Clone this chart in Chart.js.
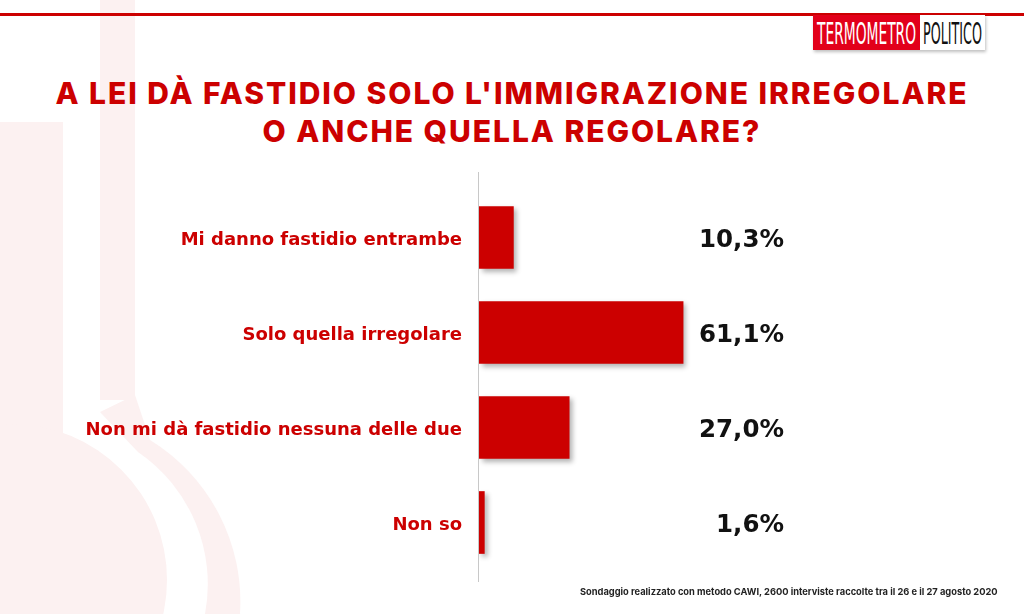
<!DOCTYPE html>
<html>
<head>
<meta charset="utf-8">
<script src="https://cdn.jsdelivr.net/npm/chart.js@4"></script>
<style>
  html, body { margin: 0; padding: 0; background: #fff; }
  #page { position: relative; width: 1024px; height: 614px; overflow: hidden; font-family: Inter, "Open Sans", sans-serif; }
  #bg { position: absolute; left: 0; top: 0; }
  #topline { position: absolute; left: 0; top: 13px; width: 1024px; height: 3px; background: #cc0000; }
  #logo { position: absolute; left: 813px; top: 15px; box-shadow: 1px 2px 3px rgba(0,0,0,0.25); }
  #title { position: absolute; left: 0; top: 74px; width: 1024px; text-align: center; color: #cc0000; font-weight: 800; font-size: 30px; line-height: 38px; letter-spacing: 1.95px; }
  #note { position: absolute; left: 580px; top: 586px; font-size: 9.3px; font-weight: 700; color: #222; white-space: nowrap; }
  #chart { position: absolute; left: 0; top: 0; }
</style>
</head>
<body>
<div id="page">
  <svg id="bg" width="1024" height="614">
    <g fill="#fcf1f1">
      <rect x="100" y="0" width="35" height="400"/>
      <rect x="0" y="122" width="63" height="320"/>
      <circle cx="11" cy="580" r="156"/>
    </g>
    <path d="M135 395 L150 440 A190 190 0 0 1 240 614 L205 614 A160 160 0 0 0 138 452 L100 412 Z" fill="#fcf1f1"/>
  </svg>
  <div id="topline"></div>
  <svg id="logo" width="172" height="35">
    <rect x="0" y="0" width="107" height="35" fill="#e2001a"/>
    <rect x="107" y="0" width="65" height="35" fill="#fff"/>
    <text x="4" y="29" textLength="99" lengthAdjust="spacingAndGlyphs" fill="#fff" font-family="Liberation Sans Narrow, DejaVu Sans Condensed, sans-serif" font-size="30">TERMOMETRO</text>
    <text x="110" y="29" textLength="59" lengthAdjust="spacingAndGlyphs" fill="#111" font-family="Liberation Sans Narrow, DejaVu Sans Condensed, sans-serif" font-size="30">POLITICO</text>
  </svg>
  <div id="title">A LEI DÀ FASTIDIO SOLO L'IMMIGRAZIONE IRREGOLARE<br>O ANCHE QUELLA REGOLARE?</div>
  <canvas id="chart" width="1024" height="614"></canvas>
  <div id="note">Sondaggio realizzato con metodo CAWI, 2600 interviste raccolte tra il 26 e il 27 agosto 2020</div>
</div>
<script>
const categories = ['Mi danno fastidio entrambe', 'Solo quella irregolare', 'Non mi dà fastidio nessuna delle due', 'Non so'];
const values = [10.3, 61.1, 27.0, 1.6];
const valueLabels = ['10,3%', '61,1%', '27,0%', '1,6%'];

// shadow under the bars
const barShadow = {
    id: 'barShadow',
    beforeDatasetsDraw(chart) {
        const ctx = chart.ctx;
        ctx.save();
        ctx.shadowColor = 'rgba(0, 0, 0, 0.3)';
        ctx.shadowBlur = 5;
        ctx.shadowOffsetX = 3;
        ctx.shadowOffsetY = 3;
    },
    afterDatasetsDraw(chart) {
        chart.ctx.restore();
    }
};

// vertical axis line and the percentages on the right
const extras = {
    id: 'extras',
    afterDraw(chart) {
        const ctx = chart.ctx;
        const area = chart.chartArea;
        const x0 = chart.scales.x.getPixelForValue(0);
        ctx.save();
        ctx.strokeStyle = '#c8c8c8';
        ctx.lineWidth = 1;
        ctx.beginPath();
        ctx.moveTo(x0 - 0.5, area.top - 18);
        ctx.lineTo(x0 - 0.5, area.bottom + 12);
        ctx.stroke();

        ctx.fillStyle = '#111';
        ctx.font = 'bold 24.5px "DejaVu Sans"';
        ctx.textAlign = 'right';
        ctx.textBaseline = 'middle';
        chart.getDatasetMeta(0).data.forEach((bar, i) => {
            ctx.fillText(valueLabels[i], area.right + 1, bar.y + 3);
        });
        ctx.restore();
    }
};

new Chart(document.getElementById('chart'), {
    type: 'bar',
    data: {
        labels: categories,
        datasets: [{
            data: values,
            backgroundColor: '#cc0000',
            borderWidth: 0,
            barThickness: 62
        }]
    },
    options: {
        indexAxis: 'y',
        responsive: false,
        animation: false,
        layout: {
            padding: { top: 190, bottom: 44, right: 241, left: 0 }
        },
        plugins: {
            legend: { display: false },
            tooltip: { enabled: false }
        },
        scales: {
            x: {
                display: false,
                min: 0,
                max: 91
            },
            y: {
                grid: { display: false, drawTicks: false },
                border: { display: false },
                afterFit(scale) { scale.width = 479; },
                ticks: {
                    color: '#cc0000',
                    padding: 17,
                    labelOffset: 3,
                    font: { family: 'DejaVu Sans', size: 18, weight: 'bold' }
                }
            }
        }
    },
    plugins: [barShadow, extras]
});
</script>
</body>
</html>
